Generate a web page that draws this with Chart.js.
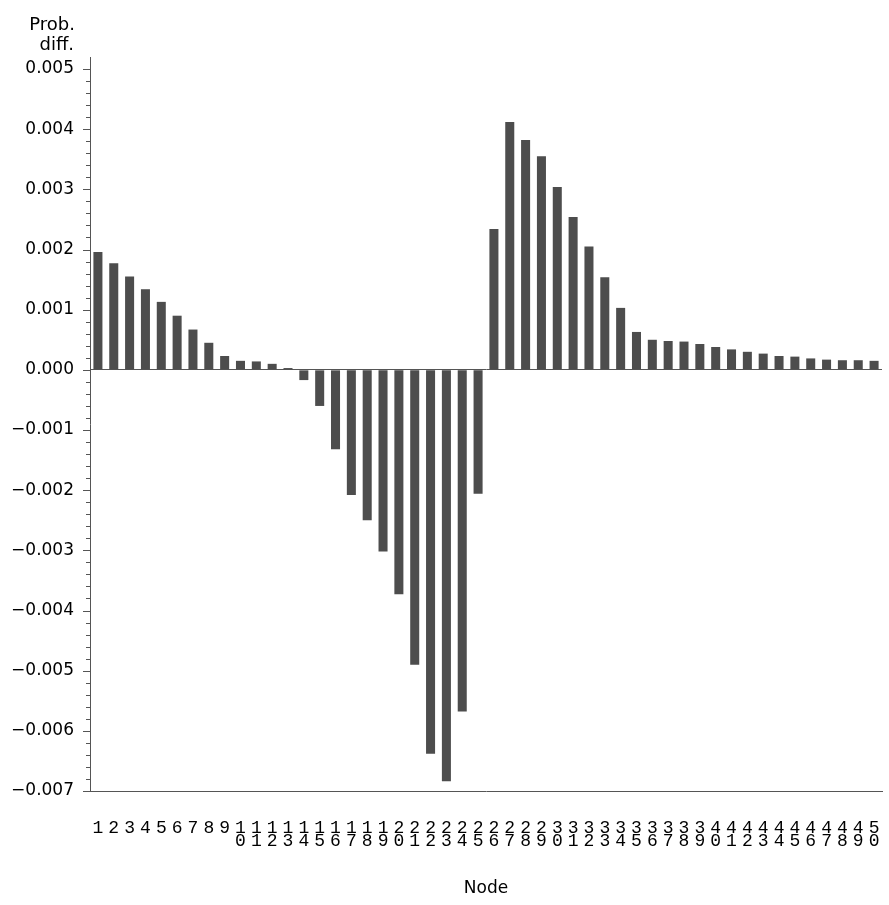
<!DOCTYPE html>
<html>
<head>
<meta charset="utf-8">
<script src="https://cdn.jsdelivr.net/npm/chart.js@4"></script>
<style>
  html, body { margin: 0; padding: 0; background: #fff; }
  #wrap { width: 889px; height: 905px; position: relative; }
</style>
</head>
<body>
<div id="wrap"><canvas id="c" width="889" height="905"></canvas></div>
<script>
const nodes = [1,2,3,4,5,6,7,8,9,10,11,12,13,14,15,16,17,18,19,20,21,22,23,24,25,
               26,27,28,29,30,31,32,33,34,35,36,37,38,39,40,41,42,43,44,45,46,47,48,49,50];
const probDiff = [
  0.00196, 0.00177, 0.00155, 0.00134, 0.00113, 0.00090, 0.00067, 0.00045, 0.00023, 0.00015,
  0.00014, 0.00010, 0.00003, -0.00017, -0.00060, -0.00132, -0.00208, -0.00250, -0.00302, -0.00373,
  -0.00490, -0.00638, -0.00684, -0.00568, -0.00206, 0.00234, 0.00412, 0.00382, 0.00355, 0.00304,
  0.00254, 0.00205, 0.00154, 0.00103, 0.00063, 0.00050, 0.00048, 0.00047, 0.00043, 0.00038,
  0.00034, 0.00030, 0.00027, 0.00023, 0.00022, 0.00019, 0.00017, 0.00016, 0.00016, 0.00015
];
const yMin = -0.007;
const yMax = 0.0052;
const yTopTick = 0.005;
const yMajorStep = 0.001;
const yMinorStep = 0.0002;
const yTitleLines = ['Prob.', 'diff.'];
const xTitle = 'Node';

const AXIS = '#555555';
const BAR = '#4d4d4d';

const isMajor = v => Math.abs(Math.round(v / yMajorStep) * yMajorStep - v) < 1e-9;

const tickMarks = {
  id: 'tickMarks',
  afterDraw(chart) {
    const y = chart.scales.y;
    const ctx = chart.ctx;
    ctx.save();
    ctx.strokeStyle = AXIS;
    ctx.lineWidth = 1;
    y.ticks.forEach(t => {
      const py = Math.round(y.getPixelForValue(t.value)) + 0.5;
      const len = isMajor(t.value) ? 7 : 4;
      ctx.beginPath();
      ctx.moveTo(y.right - len, py);
      ctx.lineTo(y.right, py);
      ctx.stroke();
    });
    ctx.fillStyle = '#000';
    ctx.font = '18px "DejaVu Sans"';
    ctx.textAlign = 'right';
    ctx.textBaseline = 'alphabetic';
    ctx.fillText(yTitleLines[0], 75, 29.5);
    ctx.fillText(yTitleLines[1], 74, 50);
    ctx.restore();
  }
};

new Chart(document.getElementById('c'), {
  type: 'bar',
  data: {
    labels: nodes.map(n => String(n).split('')),
    datasets: [{
      data: probDiff,
      backgroundColor: BAR,
      borderWidth: 0,
      barPercentage: 0.57,
      categoryPercentage: 1.0
    }]
  },
  options: {
    responsive: false,
    animation: false,
    layout: { padding: { left: 0, right: 7, top: 57, bottom: 6 } },
    plugins: { legend: { display: false }, tooltip: { enabled: false } },
    scales: {
      x: {
        offset: true,
        afterFit(scale) { scale.paddingLeft = 0; scale.paddingRight = 0; scale.height = 108; },
        grid: { display: false, drawTicks: false },
        border: { display: true, color: AXIS, width: 1 },
        ticks: {
          color: '#000',
          font: { family: '"Liberation Mono"', size: 18, lineHeight: 0.75 },
          padding: 30,
          maxRotation: 0,
          minRotation: 0,
          autoSkip: false
        },
        title: {
          display: true,
          text: xTitle,
          color: '#000',
          font: { family: '"DejaVu Sans"', size: 17 },
          padding: { top: 0, bottom: 0 }
        }
      },
      y: {
        min: yMin,
        max: yMax,
        afterBuildTicks(scale) {
          const ticks = [];
          const n = Math.round((yTopTick - yMin) / yMinorStep);
          for (let i = 0; i <= n; i++) {
            const v = Math.round((yMin + i * yMinorStep) * 1e5) / 1e5;
            ticks.push({ value: v });
          }
          scale.ticks = ticks;
        },
        afterFit(scale) { scale.width = 90; },
        grid: {
          drawTicks: false,
          drawOnChartArea: true,
          color: ctx => (ctx.tick && Math.abs(ctx.tick.value) < 1e-9) ? AXIS : 'rgba(0,0,0,0)',
          lineWidth: 1
        },
        border: { display: true, color: AXIS, width: 1 },
        ticks: {
          autoSkip: false,
          color: '#000',
          padding: 16,
          font: { family: '"DejaVu Sans"', size: 17 },
          callback: v => isMajor(v) ? v.toFixed(3).replace('-', '\u2212') : ''
        }
      }
    }
  },
  plugins: [tickMarks]
});
</script>
</body>
</html>
